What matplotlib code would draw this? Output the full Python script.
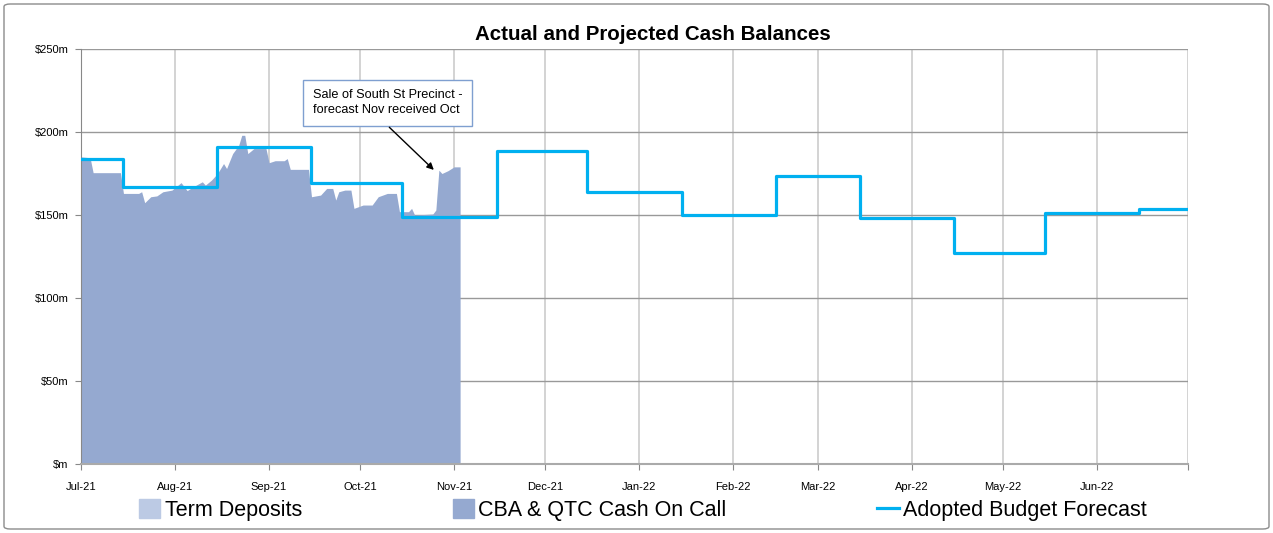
import numpy as np
import pandas as pd
import matplotlib
matplotlib.use('Agg')
import matplotlib.pyplot as plt
from matplotlib.patches import Patch, FancyBboxPatch
from matplotlib.lines import Line2D
from matplotlib.ticker import FuncFormatter

# actual cash on call ($m)
cash_dates = ['2021-07-01', '2021-07-04', '2021-07-05', '2021-07-14', '2021-07-15', '2021-07-20',
              '2021-07-21', '2021-07-22', '2021-07-24', '2021-07-26', '2021-07-28', '2021-07-31',
              '2021-08-03', '2021-08-05', '2021-08-07', '2021-08-10', '2021-08-11', '2021-08-13',
              '2021-08-15', '2021-08-17', '2021-08-18', '2021-08-20', '2021-08-22', '2021-08-23',
              '2021-08-24', '2021-08-25', '2021-08-27', '2021-08-31', '2021-09-01', '2021-09-03',
              '2021-09-06', '2021-09-07', '2021-09-08', '2021-09-14', '2021-09-15', '2021-09-18',
              '2021-09-20', '2021-09-22', '2021-09-23', '2021-09-24', '2021-09-26', '2021-09-28',
              '2021-09-29', '2021-10-02', '2021-10-05', '2021-10-07', '2021-10-10', '2021-10-13',
              '2021-10-14', '2021-10-17', '2021-10-18', '2021-10-19', '2021-10-25', '2021-10-26',
              '2021-10-27', '2021-10-28', '2021-10-30', '2021-11-01', '2021-11-03']
cash_vals = [185, 184.5, 175.5, 175.5, 163, 163,
             164, 157.4, 161, 161.5, 164, 165,
             169.5, 164.7, 167, 170, 168, 171,
             175, 181, 178, 187, 192, 198,
             198, 187, 190, 190, 181.5, 182.7,
             182.7, 184, 177.5, 177.5, 161, 162,
             166, 166, 159, 164, 165, 165,
             154, 156, 156, 161, 163, 163,
             152, 152, 154, 150, 150.6, 153,
             177, 175, 176.7, 179, 179]

# adopted budget forecast ($m), changes mid-month
fc_dates = ['2021-07-01', '2021-07-15', '2021-08-15', '2021-09-15', '2021-10-15', '2021-11-15',
            '2021-12-15', '2022-01-15', '2022-02-15', '2022-03-15', '2022-04-15', '2022-05-15',
            '2022-06-15', '2022-07-01']
fc_vals = [184, 167, 191, 169, 148.5, 188.6,
           163.8, 150, 173.2, 148.4, 127, 151.4,
           153.9, 153.9]

month_ticks = pd.date_range('2021-07-01', '2022-07-01', freq='MS')
y_ticks = [0, 50, 100, 150, 200, 250]

area_col = '#95a9d0'
term_col = '#bccae4'
line_col = '#00b0f0'

plt.rcParams['font.family'] = ['Liberation Sans', 'DejaVu Sans']

fig = plt.figure(figsize=(12.73, 5.33), dpi=100)
ax = fig.add_axes([81/1273, 1 - 464/533, 1107/1273, 415/533])

cd = pd.to_datetime(cash_dates)
fd = pd.to_datetime(fc_dates)

ax.fill_between(cd, 0, cash_vals, color=area_col, linewidth=0, zorder=2)
ax.plot(fd, fc_vals, drawstyle='steps-post', color=line_col, linewidth=2.3, zorder=3)

ax.set_xlim(month_ticks[0], month_ticks[-1])
ax.set_ylim(0, 250)
ax.set_xticks(month_ticks)
ax.set_xticklabels([d.strftime('%b-%y') for d in month_ticks[:-1]] + [''],
                   family=['Liberation Sans Narrow', 'Liberation Sans'], fontsize=8)
ax.set_yticks(y_ticks)
ax.yaxis.set_major_formatter(FuncFormatter(lambda v, p: '$%dm' % v if v else '$m'))
for lab in ax.get_yticklabels():
    lab.set_fontsize(8)
ax.tick_params(axis='both', length=4, color='#888888', width=0.8, pad=5)
ax.tick_params(axis='x', pad=9)
ax.grid(axis='x', color='#cccccc', linewidth=1.2, zorder=0)
ax.grid(axis='y', color='#999999', linewidth=1.0, zorder=0)
ax.set_axisbelow(True)
for s in ['top', 'right']:
    ax.spines[s].set_visible(False)
ax.spines['left'].set_color('#888888')
ax.spines['bottom'].set_color('#aaaaaa')
ax.spines['bottom'].set_linewidth(1.5)

fig.text(653/1273, 1 - 35/533, 'Actual and Projected Cash Balances',
         ha='center', va='center', fontsize=14.8, fontweight='bold')

# callout
ax.text(0.2096, 0.903, 'Sale of South St Precinct -\nforecast Nov received Oct',
        transform=ax.transAxes, ha='left', va='top', fontsize=9.2, linespacing=1.35,
        bbox=dict(boxstyle='square,pad=0.75', facecolor='white', edgecolor='#7f9fd0', linewidth=1))
ax.annotate('', xy=(pd.Timestamp('2021-10-26'), 176), xytext=(pd.Timestamp('2021-10-10'), 204),
            arrowprops=dict(arrowstyle='-|>', color='black', linewidth=1, mutation_scale=10))

handles = [Patch(color=term_col), Patch(color=area_col), Line2D([], [], color=line_col, linewidth=2.3)]
labels = ['Term Deposits', 'CBA & QTC Cash On Call', 'Adopted Budget Forecast']
fig.legend(handles, labels, loc='center', bbox_to_anchor=(0.505, 0.043), ncol=3, frameon=False,
           fontsize=15.5, handlelength=1.0, handleheight=1.0, handletextpad=0.2, columnspacing=7.0)

fig.patches.append(FancyBboxPatch((4/1273, 4/533), 1265/1273, 525/533, boxstyle='round,pad=0,rounding_size=0.005',
                                  transform=fig.transFigure, facecolor='none', edgecolor='#8c8c8c', linewidth=1))

fig.savefig('out.png', dpi=100)
